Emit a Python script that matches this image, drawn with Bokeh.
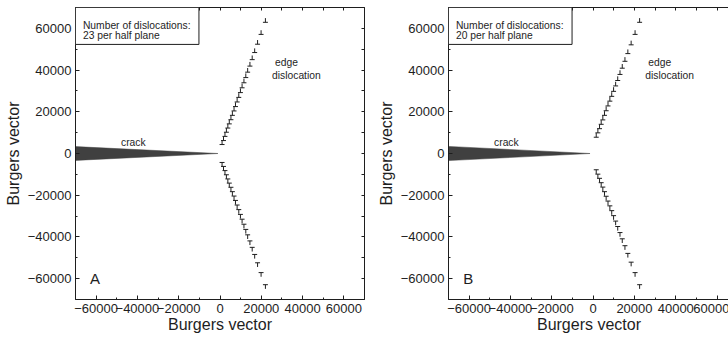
import numpy as np
from bokeh.plotting import figure
from bokeh.models import LinearAxis, FixedTicker, Range1d, Label, BoxAnnotation
from bokeh.layouts import row
from bokeh.embed import file_html
from bokeh.resources import INLINE

FONT = "Liberation Sans"

# ---------------- data ----------------
major_ticks = [-60000, -40000, -20000, 0, 20000, 40000, 60000]
minor_ticks = [-70000, -50000, -30000, -10000, 10000, 30000, 50000, 70000]
axis_title = "Burgers vector"

# Panel A: 23 dislocations per half plane
upper_x_A = [1000, 1700, 2400, 3100, 3800, 4500, 5300, 6000, 6800, 7500, 8300, 9100,
             9900, 10700, 11600, 12500, 13400, 14500, 15600, 16800, 18200, 19900, 22000]
upper_y_A = [4300, 6200, 8200, 10200, 12200, 14200, 16200, 18300, 20400, 22500, 24700, 26900,
             29200, 31500, 33900, 36400, 39000, 41900, 45000, 48400, 52400, 57100, 62900]
lower_x_A = [1000, 1700, 2400, 3100, 3800, 4500, 5300, 6000, 6800, 7500, 8300, 9100,
             9900, 10700, 11600, 12500, 13400, 14500, 15600, 16800, 18200, 19900, 22000]
lower_y_A = [-4300, -6200, -8200, -10200, -12200, -14200, -16200, -18300, -20400, -22500, -24700, -26900,
             -29200, -31500, -33900, -36400, -39000, -41900, -45000, -48400, -52400, -57100, -62900]
crack_x_A = [-70000, -1000, -70000]
crack_y_A = [3300, 0, -3300]

# Panel B: 20 dislocations per half plane
upper_x_B = [1500, 2300, 3100, 3900, 4700, 5500, 6300, 7200, 8100, 9000,
             9900, 10900, 11900, 13000, 14100, 15400, 16800, 18400, 20300, 22500]
upper_y_B = [7800, 9900, 11900, 14000, 16100, 18300, 20500, 22800, 25100, 27400,
             29800, 32400, 35000, 37900, 40900, 44200, 47900, 52100, 57100, 62900]
lower_x_B = [1500, 2300, 3100, 3900, 4700, 5500, 6300, 7200, 8100, 9000,
             9900, 10900, 11900, 13000, 14100, 15400, 16800, 18400, 20300, 22500]
lower_y_B = [-7800, -9900, -11900, -14000, -16100, -18300, -20500, -22800, -25100, -27400,
             -29800, -32400, -35000, -37900, -40900, -44200, -47900, -52100, -57100, -62900]
crack_x_B = [-70000, -1500, -70000]
crack_y_B = [3400, 0, -3400]

# ---------------- styling helpers ----------------
BAR = 1200   # half width of the dislocation symbol bar (data units)
STEM = 2000  # stem length of the dislocation symbol (data units)
INK = "#1e1e1e"


def style_axis(ax, title=None, title_standoff=3):
    ax.ticker = FixedTicker(ticks=major_ticks, minor_ticks=minor_ticks)
    ax.major_tick_in = 4
    ax.major_tick_out = 0
    ax.minor_tick_in = 2
    ax.minor_tick_out = 0
    ax.axis_line_color = INK
    ax.major_tick_line_color = INK
    ax.minor_tick_line_color = INK
    ax.major_label_text_font = FONT
    ax.major_label_text_font_size = "13px"
    ax.major_label_text_color = INK
    ax.major_label_standoff = 4
    ax.axis_label = title
    ax.axis_label_text_font = FONT
    ax.axis_label_text_font_size = "16px"
    ax.axis_label_text_font_style = "normal"
    ax.axis_label_text_color = INK
    ax.axis_label_standoff = title_standoff


def frame_edge_axis():
    # an unlabeled edge axis: only tick marks, no labels
    ax = LinearAxis(ticker=FixedTicker(ticks=[], minor_ticks=major_ticks + minor_ticks))
    ax.axis_line_color = INK
    ax.major_tick_line_color = None
    ax.minor_tick_line_color = INK
    ax.minor_tick_in = 3
    ax.minor_tick_out = 0
    ax.major_label_standoff = 0
    return ax


def dislocations(p, xs, ys, up):
    xs = np.asarray(xs, float)
    ys = np.asarray(ys, float)
    sgn = 1.0 if up else -1.0
    p.segment(x0=xs - BAR, y0=ys, x1=xs + BAR, y1=ys, line_color=INK, line_width=1)
    p.segment(x0=xs, y0=ys, x1=xs, y1=ys + sgn * STEM, line_color=INK, line_width=1)


def panel(letter, count, ux, uy, lx, ly, cx, cy, xmax, fw, right_axis, mbl, mbr):
    p = figure(frame_width=fw, frame_height=292,
               x_range=Range1d(-70000, xmax), y_range=Range1d(-70000, 70000),
               output_backend="svg", toolbar_location=None,
               min_border_left=mbl, min_border_right=mbr, min_border_top=7, min_border_bottom=0)
    p.outline_line_color = None
    p.grid.visible = False
    p.background_fill_color = "white"
    p.border_fill_color = "white"

    style_axis(p.xaxis[0], axis_title, 0)
    style_axis(p.yaxis[0], axis_title, 3)
    p.add_layout(frame_edge_axis(), "above")
    if right_axis:
        p.add_layout(frame_edge_axis(), "right")

    # crack
    p.patch(cx, cy, fill_color="#404040", line_color="#404040", line_width=0.5)
    # dislocations
    dislocations(p, ux, uy, True)
    dislocations(p, lx, ly, False)

    # info box
    p.add_layout(BoxAnnotation(left=-70000, right=-10200, top=70000, bottom=52300,
                               fill_color="white", fill_alpha=1.0,
                               line_color=INK, line_alpha=1.0, line_width=1))
    common = dict(text_font=FONT, text_font_size="10.3px", text_color=INK,
                  text_baseline="middle")
    p.add_layout(Label(x=-66400, y=61400, text="Number of dislocations:", **common))
    p.add_layout(Label(x=-66400, y=56600, text=f"{count} per half plane", **common))
    p.add_layout(Label(x=-42000, y=5100, text="crack", text_align="center", **common))
    p.add_layout(Label(x=32200, y=43800, text="edge", text_align="center", **common))
    p.add_layout(Label(x=37000, y=37400, text="dislocation", text_align="center", **common))
    p.add_layout(Label(x=-60500, y=-60000, text=letter, text_font=FONT, text_font_size="15px",
                       text_color=INK, text_align="center", text_baseline="middle"))
    return p


pA = panel("A", 23, upper_x_A, upper_y_A, lower_x_A, lower_y_A, crack_x_A, crack_y_A,
           70000, 289, True, 75, 10)
pB = panel("B", 20, upper_x_B, upper_y_B, lower_x_B, lower_y_B, crack_x_B, crack_y_B,
           66000, 281, False, 0, 0)

layout = row(pA, pB, spacing=0)
open("out.html", "w").write(file_html(layout, INLINE))
